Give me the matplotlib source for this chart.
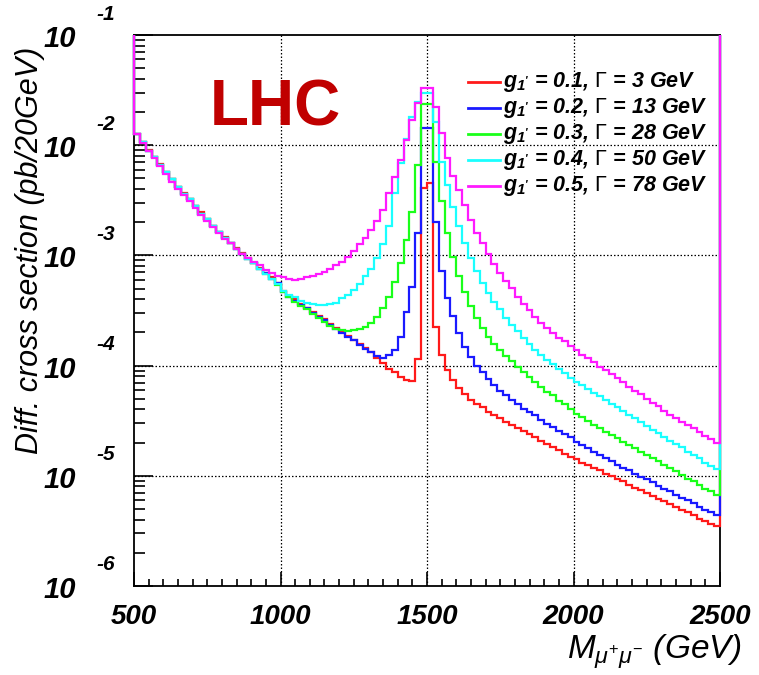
"""Z' -> mu+ mu- differential cross section at the LHC for five couplings."""
import numpy as np
import matplotlib
matplotlib.use("Agg")
import matplotlib.pyplot as plt
from matplotlib.ticker import LogLocator, MultipleLocator, NullFormatter, FixedLocator

plt.rcParams["mathtext.fontset"] = "custom"
plt.rcParams["mathtext.it"] = "Liberation Sans:italic"
plt.rcParams["mathtext.bf"] = "Liberation Sans:italic:bold"
plt.rcParams["mathtext.rm"] = "Liberation Sans"

# 20 GeV bins from 500 to 2500 GeV
mass_lo, mass_hi, bin_width = 500, 2500, 20

couplings = ["0.1", "0.2", "0.3", "0.4", "0.5"]
widths = ["3", "13", "28", "50", "78"]
colors = ["#ff1a1a", "#1a1aff", "#1aff1a", "#1affff", "#ff1aff"]

# log10 of d(sigma)/dM in pb/20GeV, one value per bin
log_xsec_g01 = [
    -1.90, -1.97, -2.04, -2.11, -2.17, -2.24, -2.31, -2.38, -2.43, -2.49,
    -2.55, -2.61, -2.67, -2.73, -2.79, -2.83, -2.89, -2.93, -2.98, -3.02,
    -3.07, -3.11, -3.16, -3.20, -3.25, -3.32, -3.37, -3.40, -3.44, -3.48,
    -3.51, -3.55, -3.58, -3.62, -3.66, -3.69, -3.73, -3.77, -3.80, -3.84,
    -3.88, -3.93, -3.98, -4.03, -4.06, -4.10, -4.13, -4.14, -3.94, -2.39,
    -2.34, -3.65, -3.90, -4.04, -4.13, -4.20, -4.26, -4.31, -4.35, -4.38,
    -4.42, -4.45, -4.48, -4.51, -4.54, -4.57, -4.59, -4.62, -4.65, -4.68,
    -4.71, -4.74, -4.77, -4.80, -4.83, -4.85, -4.88, -4.90, -4.93, -4.95,
    -4.98, -5.00, -5.03, -5.05, -5.08, -5.11, -5.13, -5.16, -5.18, -5.21,
    -5.23, -5.26, -5.28, -5.31, -5.33, -5.36, -5.39, -5.41, -5.44, -5.46,
]
log_xsec_g02 = [
    -1.90, -1.97, -2.05, -2.11, -2.18, -2.24, -2.31, -2.38, -2.44, -2.49,
    -2.55, -2.62, -2.67, -2.73, -2.79, -2.84, -2.89, -2.94, -2.99, -3.03,
    -3.07, -3.12, -3.16, -3.21, -3.25, -3.33, -3.38, -3.41, -3.45, -3.48,
    -3.52, -3.56, -3.59, -3.63, -3.67, -3.70, -3.74, -3.77, -3.81, -3.85,
    -3.88, -3.91, -3.93, -3.90, -3.86, -3.74, -3.51, -3.29, -2.80, -1.84,
    -1.84, -2.70, -3.14, -3.39, -3.55, -3.70, -3.83, -3.92, -4.00, -4.06,
    -4.12, -4.18, -4.23, -4.27, -4.31, -4.35, -4.39, -4.42, -4.45, -4.49,
    -4.53, -4.56, -4.59, -4.62, -4.65, -4.69, -4.72, -4.75, -4.78, -4.81,
    -4.84, -4.87, -4.90, -4.93, -4.95, -4.98, -5.01, -5.03, -5.06, -5.09,
    -5.12, -5.14, -5.17, -5.20, -5.22, -5.25, -5.28, -5.31, -5.33, -5.36,
]
log_xsec_g03 = [
    -1.90, -1.97, -2.05, -2.11, -2.18, -2.24, -2.31, -2.38, -2.44, -2.49,
    -2.55, -2.62, -2.67, -2.73, -2.79, -2.84, -2.89, -2.94, -2.99, -3.03,
    -3.07, -3.12, -3.17, -3.21, -3.27, -3.33, -3.38, -3.42, -3.46, -3.49,
    -3.53, -3.57, -3.60, -3.64, -3.67, -3.68, -3.69, -3.68, -3.67, -3.65,
    -3.61, -3.56, -3.48, -3.38, -3.24, -3.07, -2.86, -2.61, -2.18, -1.63,
    -1.63, -2.15, -2.51, -2.80, -3.01, -3.19, -3.33, -3.46, -3.57, -3.66,
    -3.74, -3.80, -3.86, -3.91, -3.96, -4.01, -4.06, -4.10, -4.15, -4.19,
    -4.24, -4.27, -4.32, -4.35, -4.39, -4.44, -4.47, -4.50, -4.54, -4.57,
    -4.60, -4.63, -4.66, -4.69, -4.72, -4.75, -4.78, -4.81, -4.84, -4.87,
    -4.90, -4.93, -4.96, -4.99, -5.03, -5.05, -5.08, -5.12, -5.14, -5.17,
]
log_xsec_g04 = [
    -1.90, -1.97, -2.05, -2.11, -2.18, -2.24, -2.31, -2.38, -2.44, -2.49,
    -2.55, -2.62, -2.67, -2.73, -2.79, -2.84, -2.89, -2.94, -2.99, -3.03,
    -3.07, -3.12, -3.17, -3.21, -3.26, -3.32, -3.36, -3.38, -3.41, -3.43,
    -3.44, -3.45, -3.45, -3.44, -3.43, -3.39, -3.36, -3.31, -3.26, -3.19,
    -3.12, -3.02, -2.90, -2.73, -2.43, -2.16, -1.94, -1.74, -1.61, -1.53,
    -1.53, -1.79, -2.15, -2.36, -2.56, -2.73, -2.89, -3.02, -3.14, -3.25,
    -3.34, -3.42, -3.49, -3.57, -3.63, -3.69, -3.75, -3.80, -3.86, -3.90,
    -3.95, -3.99, -4.03, -4.07, -4.11, -4.15, -4.18, -4.21, -4.25, -4.28,
    -4.31, -4.35, -4.38, -4.41, -4.45, -4.48, -4.51, -4.55, -4.58, -4.61,
    -4.65, -4.68, -4.71, -4.74, -4.78, -4.81, -4.84, -4.88, -4.91, -4.94,
]
log_xsec_g05 = [
    -1.90, -1.98, -2.05, -2.12, -2.19, -2.26, -2.33, -2.40, -2.45, -2.51,
    -2.57, -2.63, -2.69, -2.74, -2.80, -2.85, -2.89, -2.94, -2.99, -3.02,
    -3.06, -3.09, -3.13, -3.16, -3.19, -3.20, -3.21, -3.22, -3.21, -3.20,
    -3.19, -3.17, -3.15, -3.12, -3.09, -3.06, -3.01, -2.96, -2.90, -2.84,
    -2.77, -2.69, -2.59, -2.43, -2.29, -2.13, -1.95, -1.77, -1.62, -1.48,
    -1.48, -1.65, -1.89, -2.12, -2.28, -2.41, -2.54, -2.68, -2.80, -2.89,
    -2.99, -3.08, -3.16, -3.23, -3.30, -3.38, -3.44, -3.50, -3.56, -3.61,
    -3.66, -3.70, -3.75, -3.78, -3.82, -3.86, -3.90, -3.93, -3.97, -4.01,
    -4.04, -4.08, -4.11, -4.15, -4.19, -4.23, -4.26, -4.30, -4.34, -4.37,
    -4.41, -4.45, -4.48, -4.51, -4.54, -4.57, -4.60, -4.64, -4.67, -4.70,
]
series = [log_xsec_g01, log_xsec_g02, log_xsec_g03, log_xsec_g04, log_xsec_g05]

W, H = 759, 675
fig = plt.figure(figsize=(W / 100, H / 100), dpi=100)
ax = fig.add_axes([134 / W, 1 - 586 / H, 586 / W, 551 / H])

ax.set_yscale("log")
ax.set_xlim(mass_lo, mass_hi)
ax.set_ylim(1e-6, 1e-1)

edges = np.arange(mass_lo, mass_hi + bin_width, bin_width)
for vals, col in zip(series, colors):
    # end edges run up to the top of the frame, as ROOT draws them
    ax.stairs(10.0 ** np.asarray(vals), edges, baseline=1e-1, color=col, lw=1.6,
              zorder=3, clip_on=False)

# dotted grid at the labelled values
dot = dict(color="black", lw=0.9, ls=(0, (1.2, 1.6)), zorder=1)
for xg in (1000, 1500, 2000):
    ax.axvline(xg, **dot)
for yg in (1e-2, 1e-3, 1e-4, 1e-5):
    ax.axhline(yg, **dot)

for s in ax.spines.values():
    s.set_linewidth(1.3)
    s.set_zorder(2)

ax.xaxis.set_major_locator(FixedLocator([500, 1000, 1500, 2000, 2500]))
ax.xaxis.set_minor_locator(MultipleLocator(50))
ax.yaxis.set_major_locator(LogLocator(base=10, numticks=10))
ax.yaxis.set_minor_locator(LogLocator(base=10, subs=np.arange(2, 10), numticks=20))
ax.yaxis.set_minor_formatter(NullFormatter())
ax.tick_params(which="both", direction="in", top=False, right=False, width=1.2)
ax.tick_params(axis="x", which="major", length=10, pad=13)
ax.tick_params(axis="x", which="minor", length=5)
ax.tick_params(axis="y", which="major", length=14)
ax.tick_params(axis="y", which="minor", length=8)
ax.set_xticklabels(["500", "1000", "1500", "2000", "2500"],
                   fontfamily="Liberation Sans", fontweight="bold", fontstyle="italic", fontsize=20)
ax.set_yticklabels([])

# ROOT-style "10" with the exponent set high and to the right
for k in range(1, 7):
    yv = 10.0 ** (-k)
    ax.annotate("10", xy=(0, yv), xycoords=("axes fraction", "data"),
                xytext=(-58, -4), textcoords="offset pixels", ha="right", va="center",
                fontfamily="Liberation Sans", fontweight="bold", fontstyle="italic", fontsize=21)
    ax.annotate(f"-{k}", xy=(0, yv), xycoords=("axes fraction", "data"),
                xytext=(-38, 21), textcoords="offset pixels", ha="left", va="center",
                fontfamily="Liberation Sans", fontweight="bold", fontstyle="italic", fontsize=15)

fig.text(30 / W, 1 - 250 / H, "Diff. cross section (pb/20GeV)", rotation=90,
         ha="center", va="center", fontfamily="Liberation Sans", fontstyle="italic",
         fontsize=22)
fig.text(742 / W, 1 - 660 / H, r"$M_{\mu^{+}\mu^{-}}$ (GeV)", ha="right", va="baseline",
         fontfamily="Liberation Sans", fontstyle="italic", fontsize=24)

fig.text(210 / W, 1 - 125 / H, "LHC", ha="left", va="baseline", color="#c00000",
         fontfamily="Liberation Sans", fontweight="bold", fontsize=46)

# legend drawn by hand: short line, then the label
legend_rows = [82, 108, 134, 160, 186]
for py, col, g, gam in zip(legend_rows, colors, couplings, widths):
    ya = (586 - py) / 551
    ax.plot([(468 - 134) / 586, (500 - 134) / 586], [ya, ya], color=col, lw=2,
            transform=ax.transAxes, zorder=4)
    ax.text((503 - 134) / 586, ya, rf"$\mathbf{{g}}_{{\mathbf{{1'}}}}$ = {g}, $\Gamma$ = {gam} GeV",
            transform=ax.transAxes, ha="left", va="center", fontfamily="Liberation Sans",
            fontweight="bold", fontstyle="italic", fontsize=15.5, zorder=4)

fig.savefig("out.png", dpi=100, facecolor="white")
